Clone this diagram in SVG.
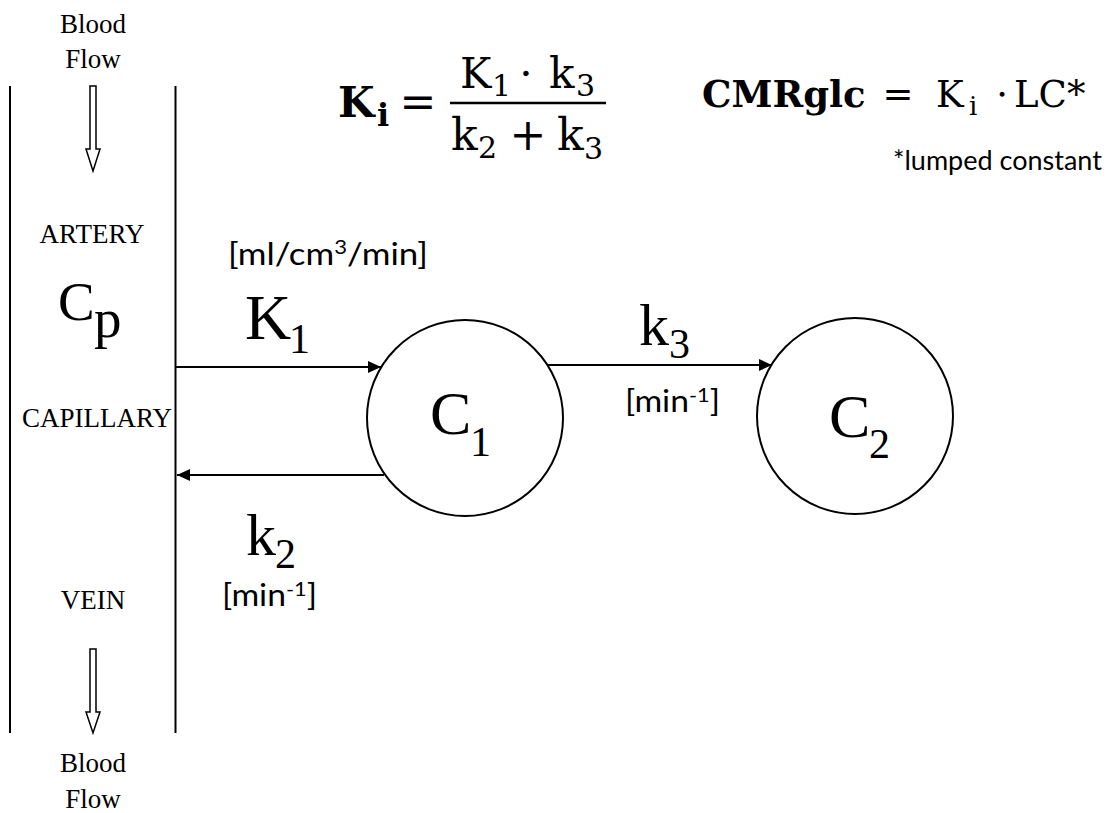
<svg xmlns="http://www.w3.org/2000/svg" width="1115" height="813" viewBox="0 0 1115 813">
<style>
.ser{font-family:"Liberation Serif","Times New Roman",serif;fill:#000}
.lab{font-size:27px}
.big{font-size:62px}
.sub{font-size:42px}
.cal{font-family:Lato,"Open Sans",sans-serif;fill:#000}
.math{font-family:"DejaVu Serif","Liberation Serif",serif;fill:#000}
.ln{stroke:#000;stroke-width:2;fill:none}
.node{stroke:#000;stroke-width:2;fill:#fff}
.hollow{stroke:#000;stroke-width:1.5;fill:#fff}
</style>
<defs>
<marker id="ah" markerUnits="userSpaceOnUse" markerWidth="14" markerHeight="14" viewBox="0 0 14 14" refX="13" refY="7" orient="auto">
<path d="M0,1 L13,7 L0,13 Z" fill="#000"/>
</marker>
</defs>
<rect width="1115" height="813" fill="#fff"/>

<g id="vessel">
<line class="ln" x1="10" y1="86" x2="10" y2="733"/>
<line class="ln" x1="175.5" y1="86" x2="175.5" y2="733"/>
<polygon class="hollow" points="90,86 96,86 96,149 100,149 93,171 86,149 90,149"/>
<polygon class="hollow" points="90,649 96,649 96,712 100,712 93,733 86,712 90,712"/>
<text class="ser lab" x="93" y="33" text-anchor="middle">Blood</text>
<text class="ser lab" x="93" y="68" text-anchor="middle">Flow</text>
<text class="ser lab" x="92" y="243" text-anchor="middle">ARTERY</text>
<text class="ser lab" x="97" y="427" text-anchor="middle">CAPILLARY</text>
<text class="ser lab" x="93" y="609" text-anchor="middle">VEIN</text>
<text class="ser lab" x="93" y="772" text-anchor="middle">Blood</text>
<text class="ser lab" x="93" y="808" text-anchor="middle">Flow</text>
<text class="ser" font-size="55" x="58" y="320">C</text>
<text class="ser" font-size="55" x="94" y="337">p</text>
</g>

<g id="C1">
<circle class="node" cx="465" cy="418" r="98"/>
<text class="ser big" x="430" y="434">C</text>
<text class="ser sub" x="470" y="456">1</text>
</g>

<g id="C2">
<circle class="node" cx="855" cy="416" r="98"/>
<text class="ser big" x="829" y="437">C</text>
<text class="ser sub" x="869" y="458">2</text>
</g>

<g id="connectors">
<line class="ln" x1="176" y1="367" x2="381" y2="367" marker-end="url(#ah)"/>
<line class="ln" x1="548" y1="365" x2="772" y2="365" marker-end="url(#ah)"/>
<line class="ln" x1="384" y1="475" x2="177" y2="475" marker-end="url(#ah)"/>
</g>

<g id="labels">
<text class="ser" font-size="64" x="245" y="339">K</text>
<text class="ser sub" x="289" y="353">1</text>
<text class="cal" font-size="30" x="228" y="265" textLength="200" lengthAdjust="spacingAndGlyphs">[ml/cm<tspan font-size="19" dy="-11">3</tspan><tspan dy="11">/min]</tspan></text>
<text class="ser" font-size="60" x="639" y="345">k</text>
<text class="ser sub" x="669" y="358">3</text>
<text class="cal" font-size="31" x="625" y="412" textLength="95" lengthAdjust="spacingAndGlyphs">[min<tspan font-size="20" dy="-10">-1</tspan><tspan dy="10">]</tspan></text>
<text class="ser" font-size="60" x="246" y="555">k</text>
<text class="ser sub" x="275" y="568">2</text>
<text class="cal" font-size="31" x="222" y="606" textLength="95" lengthAdjust="spacingAndGlyphs">[min<tspan font-size="20" dy="-10">-1</tspan><tspan dy="10">]</tspan></text>
</g>

<g id="equation-Ki">
<text class="math" font-size="42" font-weight="bold" x="338" y="117">K</text>
<text class="math" font-size="32" font-weight="bold" x="377" y="126">i</text>
<text class="math" font-size="44" x="418" y="117" text-anchor="middle">=</text>
<text class="math" font-size="42" x="460" y="88">K</text>
<text class="math" font-size="30" x="492" y="96">1</text>
<text class="math" font-size="42" x="526" y="88" text-anchor="middle">⋅</text>
<text class="math" font-size="42" x="549" y="88">k</text>
<text class="math" font-size="30" x="576" y="96">3</text>
<line x1="450" y1="103" x2="606" y2="103" stroke="#000" stroke-width="2.5"/>
<text class="math" font-size="44" x="451" y="150">k</text>
<text class="math" font-size="30" x="478" y="158">2</text>
<text class="math" font-size="44" x="528" y="150" text-anchor="middle">+</text>
<text class="math" font-size="44" x="557" y="150">k</text>
<text class="math" font-size="30" x="584" y="159">3</text>
</g>

<g id="equation-CMRglc">
<text class="math" font-size="37" font-weight="bold" x="702" y="107">CMRglc</text>
<text class="math" font-size="37" x="898" y="107" text-anchor="middle">=</text>
<text class="math" font-size="37" x="936" y="107">K</text>
<text class="math" font-size="26" x="969" y="115">i</text>
<text class="math" font-size="37" x="1002" y="107" text-anchor="middle">⋅</text>
<text class="math" font-size="37" x="1014" y="107">LC*</text>
<text class="cal" font-size="27" x="893" y="170">*lumped constant</text>
</g>
</svg>
